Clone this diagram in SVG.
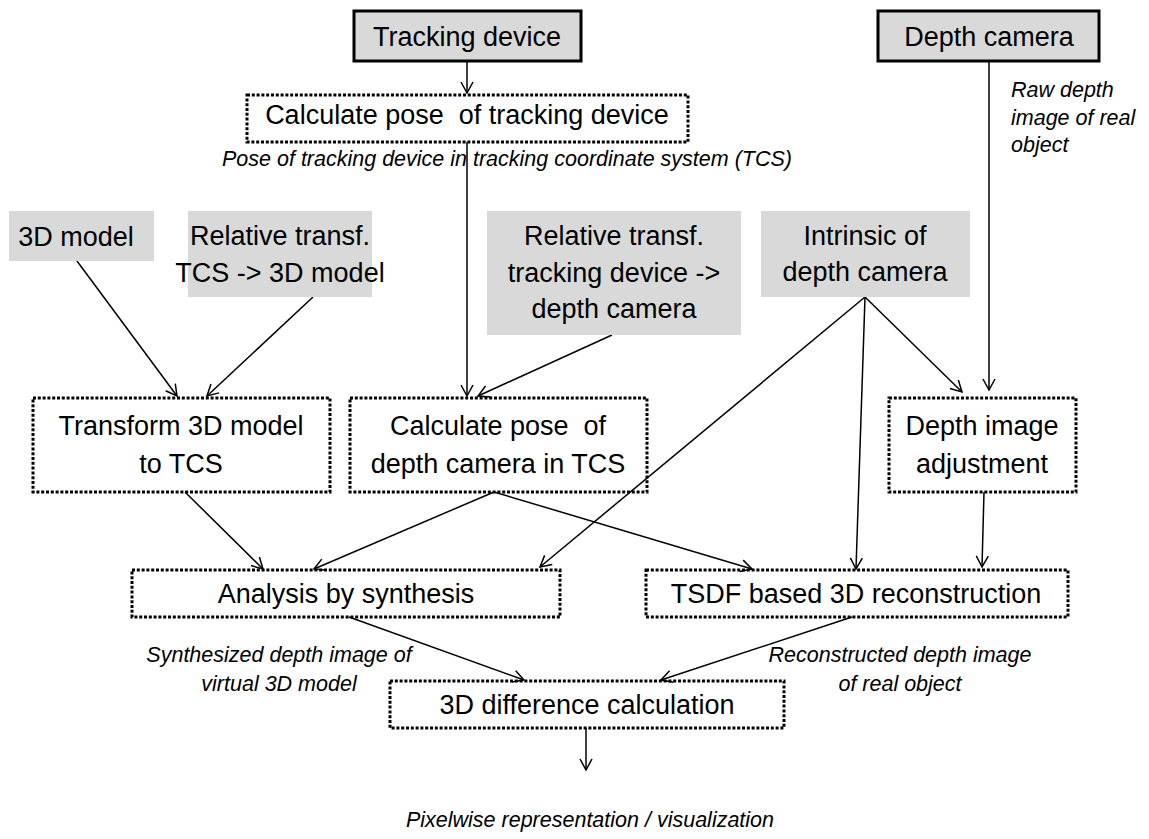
<svg xmlns="http://www.w3.org/2000/svg" width="1149" height="839" viewBox="0 0 1149 839">
<style>
.bg{fill:#ffffff}
.src{fill:#d9d9d9;stroke:#000;stroke-width:3}
.inp{fill:#d9d9d9;stroke:none}
.proc{fill:none;stroke:#000;stroke-width:3;stroke-dasharray:3 1.8}
.t{font-family:"Liberation Sans",Arial,sans-serif;font-size:27px;fill:#000;text-anchor:middle}
.i{font-family:"Liberation Sans",Arial,sans-serif;font-size:21.5px;font-style:italic;fill:#000}
.c{fill:none;stroke:#000;stroke-width:1.5;marker-end:url(#ah)}
</style>
<defs>
<marker id="ah" markerUnits="userSpaceOnUse" markerWidth="14" markerHeight="14" refX="11" refY="6" orient="auto" viewBox="-1 -1 14 14">
<path d="M0,0 L11,6 L0,12" fill="none" stroke="#000" stroke-width="1.5"/>
</marker>
</defs>
<rect class="bg" x="0" y="0" width="1149" height="839"/>

<g id="connectors">
<line class="c" x1="467" y1="62" x2="467" y2="93"/>
<line class="c" x1="467" y1="142" x2="467" y2="396"/>
<line class="c" x1="77" y1="261" x2="177" y2="396"/>
<line class="c" x1="313" y1="297" x2="207" y2="396"/>
<line class="c" x1="612" y1="335" x2="478" y2="396"/>
<line class="c" x1="989" y1="61" x2="989" y2="390"/>
<line class="c" x1="865" y1="297" x2="962" y2="392"/>
<line class="c" x1="865" y1="297" x2="856" y2="569"/>
<line class="c" x1="865" y1="297" x2="540" y2="567"/>
<line class="c" x1="494" y1="492" x2="314" y2="569"/>
<line class="c" x1="494" y1="492" x2="752" y2="569"/>
<line class="c" x1="185" y1="492" x2="263" y2="569"/>
<line class="c" x1="984" y1="492" x2="982" y2="567"/>
<line class="c" x1="349" y1="617" x2="524" y2="680"/>
<line class="c" x1="852" y1="617" x2="661" y2="680"/>
<line class="c" x1="586" y1="728" x2="586" y2="770"/>
</g>

<g id="tracking-device">
<rect class="src" x="354" y="11" width="227" height="50"/>
<text class="t" x="467" y="46">Tracking device</text>
</g>

<g id="depth-camera">
<rect class="src" x="878" y="11" width="221" height="50"/>
<text class="t" x="989" y="46">Depth camera</text>
</g>

<g id="calc-pose-tracking">
<rect class="proc" x="247" y="95" width="441" height="47"/>
<text class="t" x="467" y="124" style="white-space:pre">Calculate pose  of tracking device</text>
</g>

<g id="label-pose-tcs">
<text class="i" x="507" y="166" text-anchor="middle">Pose of tracking device in tracking coordinate system (TCS)</text>
</g>

<g id="label-raw-depth">
<text class="i" x="1011" y="97">Raw depth</text>
<text class="i" x="1011" y="125">image of real</text>
<text class="i" x="1011" y="152">object</text>
</g>

<g id="model-3d">
<rect class="inp" x="9" y="211" width="145" height="50"/>
<text class="t" x="76" y="246">3D model</text>
</g>

<g id="rel-tcs-model">
<rect class="inp" x="188" y="211" width="184" height="86"/>
<text class="t" x="280" y="245">Relative transf.</text>
<text class="t" x="280" y="282">TCS -&gt; 3D model</text>
</g>

<g id="rel-tracking-camera">
<rect class="inp" x="487" y="211" width="254" height="124"/>
<text class="t" x="614" y="245">Relative transf.</text>
<text class="t" x="614" y="282">tracking device -&gt;</text>
<text class="t" x="614" y="318">depth camera</text>
</g>

<g id="intrinsic">
<rect class="inp" x="761" y="211" width="209" height="86"/>
<text class="t" x="865" y="245">Intrinsic of</text>
<text class="t" x="865" y="281">depth camera</text>
</g>

<g id="transform-model">
<rect class="proc" x="33" y="398" width="297" height="94"/>
<text class="t" x="181" y="435">Transform 3D model</text>
<text class="t" x="181" y="473">to TCS</text>
</g>

<g id="calc-pose-depth">
<rect class="proc" x="350" y="398" width="297" height="94"/>
<text class="t" x="498" y="435" style="white-space:pre">Calculate pose  of</text>
<text class="t" x="498" y="473">depth camera in TCS</text>
</g>

<g id="depth-adjust">
<rect class="proc" x="889" y="398" width="187" height="94"/>
<text class="t" x="982" y="435">Depth image</text>
<text class="t" x="982" y="473">adjustment</text>
</g>

<g id="analysis">
<rect class="proc" x="132" y="570" width="428" height="47"/>
<text class="t" x="346" y="603">Analysis by synthesis</text>
</g>

<g id="tsdf">
<rect class="proc" x="646" y="570" width="422" height="47"/>
<text class="t" x="856" y="603">TSDF based 3D reconstruction</text>
</g>

<g id="label-synth">
<text class="i" x="279" y="662" text-anchor="middle">Synthesized depth image of</text>
<text class="i" x="279" y="691" text-anchor="middle">virtual 3D model</text>
</g>

<g id="label-recon">
<text class="i" x="900" y="662" text-anchor="middle">Reconstructed depth image</text>
<text class="i" x="900" y="691" text-anchor="middle">of real object</text>
</g>

<g id="difference">
<rect class="proc" x="390" y="681" width="394" height="47"/>
<text class="t" x="587" y="714">3D difference calculation</text>
</g>

<g id="label-output">
<text class="i" x="590" y="827" text-anchor="middle">Pixelwise representation / visualization</text>
</g>
</svg>
